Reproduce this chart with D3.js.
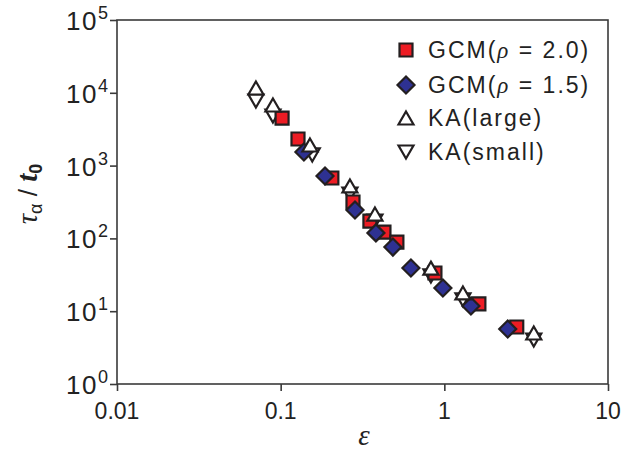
<!DOCTYPE html>
<html><head><meta charset="utf-8">
<script src="https://cdn.jsdelivr.net/npm/d3@7"></script>
<style>body{margin:0;background:#fff}svg{display:block}</style>
</head><body><svg id="c" width="622" height="453"></svg>
<script>
// ---- data ----
const xTicks = [0.01, 0.1, 1, 10];
const xTickLabels = ["0.01", "0.1", "1", "10"];
const yTicks = [1, 10, 100, 1000, 10000, 100000];
const yTickExps = ["0", "1", "2", "3", "4", "5"];

const gcm20X = [0.102, 0.1276, 0.2055, 0.2766, 0.351, 0.4276, 0.513, 0.876, 1.626, 2.77];
const gcm20Y = [4500, 2320, 676, 316, 173, 122, 89, 33.5, 12.6, 6.07];

const gcm15X = [0.1387, 0.1866, 0.2845, 0.382, 0.485, 0.625, 0.980, 1.454, 2.44];
const gcm15Y = [1537, 720, 245, 119, 76, 39.2, 20.8, 11.8, 5.7];

const kaLargeX = [0.0706, 0.0897, 0.151, 0.265, 0.3767, 0.828, 1.299, 3.52];
const kaLargeY = [11640, 6800, 1919, 525, 216, 39, 17.8, 5.02];

const kaSmallX = [0.0706, 0.0897, 0.156, 0.265, 0.3767, 0.828, 1.299, 3.52];
const kaSmallY = [7710, 4800, 1400, 407, 173, 30.5, 14.3, 4.02];

const legendLabels = ["GCM(", "GCM(", "KA(large)", "KA(small)"];

// ---- drawing ----
const svg = d3.select("#c");
const W = 622, H = 453;
const m = {l: 117, r: 608, t: 20, b: 384};
const x = d3.scaleLog().domain([0.01, 10]).range([m.l, m.r]);
const y = d3.scaleLog().domain([1, 1e5]).range([m.b, m.t]);

const axisCol = "#3a3a3a";
const red = "#ed1c24", blue = "#2e3192", edge = "#231f20";

svg.append("rect").attr("width", W).attr("height", H).attr("fill", "#fff");

// frame
svg.append("rect").attr("x", m.l).attr("y", m.t)
  .attr("width", m.r - m.l).attr("height", m.b - m.t)
  .attr("fill", "none").attr("stroke", axisCol).attr("stroke-width", 1.6);

// x axis
const gx = svg.append("g").attr("transform", `translate(0,${m.b})`)
  .call(d3.axisBottom(x).tickValues(xTicks).tickSize(7).tickFormat(""));
gx.select(".domain").remove();
gx.selectAll("line").attr("stroke", axisCol).attr("stroke-width", 1.6);
svg.append("g").selectAll("text").data(xTicks).join("text")
  .attr("x", d => x(d)).attr("y", 419)
  .attr("text-anchor", "middle")
  .attr("font-family", "Liberation Sans, Arial, sans-serif")
  .attr("font-size", 23).attr("fill", "#222")
  .text((d, i) => xTickLabels[i]);

// y axis
const gy = svg.append("g").attr("transform", `translate(${m.l},0)`)
  .call(d3.axisLeft(y).tickValues(yTicks).tickSize(7).tickFormat(""));
gy.select(".domain").remove();
gy.selectAll("line").attr("stroke", axisCol).attr("stroke-width", 1.6);
const yl = svg.append("g").selectAll("text").data(yTicks).join("text")
  .attr("x", 108).attr("y", d => y(d) + 10)
  .attr("text-anchor", "end")
  .attr("font-family", "Liberation Sans, Arial, sans-serif")
  .attr("font-size", 26).attr("fill", "#222");
yl.append("tspan").attr("letter-spacing", 1.5).text("10");
yl.append("tspan").attr("dy", -11).attr("font-size", 18).text((d, i) => yTickExps[i]);

// axis titles
svg.append("text").attr("x", 364).attr("y", 445).attr("text-anchor", "middle")
  .attr("font-family", "Liberation Serif, Times New Roman, serif")
  .attr("font-style", "italic").attr("font-size", 29).attr("fill", "#222").text("ε");

const yt = svg.append("text").attr("transform", "translate(37,194) rotate(-90)")
  .attr("text-anchor", "middle").attr("fill", "#222")
  .attr("font-family", "Liberation Serif, Times New Roman, serif").attr("font-size", 29);
yt.append("tspan").attr("font-style", "italic").text("τ");
yt.append("tspan").attr("font-family", "Liberation Sans, Arial, sans-serif").attr("font-size", 18).attr("dy", 5).text("α");
yt.append("tspan").attr("dy", -5).attr("font-family", "Liberation Sans, Arial, sans-serif").attr("font-size", 26).text(" / ");
yt.append("tspan").attr("font-style", "italic").attr("font-weight", "bold").text("t");
yt.append("tspan").attr("font-weight", "bold").attr("font-family", "Liberation Sans, Arial, sans-serif").attr("font-size", 18).attr("dy", 5).text("0");

// marker generators
const sq = 13, dia = 8.5, triS = 15, triH = 13;
function squarePath(cx, cy) { const h = sq / 2; return `M${cx-h},${cy-h}H${cx+h}V${cy+h}H${cx-h}Z`; }
function diamondPath(cx, cy) { return `M${cx},${cy-dia}L${cx+dia},${cy}L${cx},${cy+dia}L${cx-dia},${cy}Z`; }
function triUpPath(cx, cy) { return `M${cx},${cy-triH/2}L${cx+triS/2},${cy+triH/2}L${cx-triS/2},${cy+triH/2}Z`; }
function triDownPath(cx, cy) { return `M${cx},${cy+triH/2}L${cx+triS/2},${cy-triH/2}L${cx-triS/2},${cy-triH/2}Z`; }

function series(xs, ys, pathFn, fill) {
  svg.append("g").selectAll("path").data(xs.map((v, i) => [v, ys[i]])).join("path")
    .attr("d", d => pathFn(x(d[0]), y(d[1])))
    .attr("fill", fill).attr("stroke", edge).attr("stroke-width", 2.2)
    .attr("stroke-linejoin", "miter");
}
series(kaSmallX, kaSmallY, triDownPath, "#fff");
series(gcm20X, gcm20Y, squarePath, red);
series(gcm15X, gcm15Y, diamondPath, blue);
series(kaLargeX, kaLargeY, triUpPath, "#fff");

// legend
const legY = [50, 85, 118, 152];
const legFns = [squarePath, diamondPath, triUpPath, triDownPath];
const legFill = [red, blue, "#fff", "#fff"];
const legSuffix = ["2.0)", "1.5)", "", ""];
const lg = svg.append("g");
legY.forEach((ly, i) => {
  lg.append("path").attr("d", legFns[i](406, ly)).attr("fill", legFill[i])
    .attr("stroke", edge).attr("stroke-width", 2.2);
  const t = lg.append("text").attr("x", 428).attr("y", ly + 8)
    .attr("font-family", "Liberation Sans, Arial, sans-serif").attr("font-size", 23)
    .attr("letter-spacing", 2).attr("fill", "#222");
  t.append("tspan").text(legendLabels[i]);
  if (legSuffix[i]) {
    t.append("tspan").attr("font-family", "Liberation Serif, Times New Roman, serif").attr("font-style", "italic").text("ρ");
    t.append("tspan").text(" = " + legSuffix[i]);
  }
});
</script></body></html>
